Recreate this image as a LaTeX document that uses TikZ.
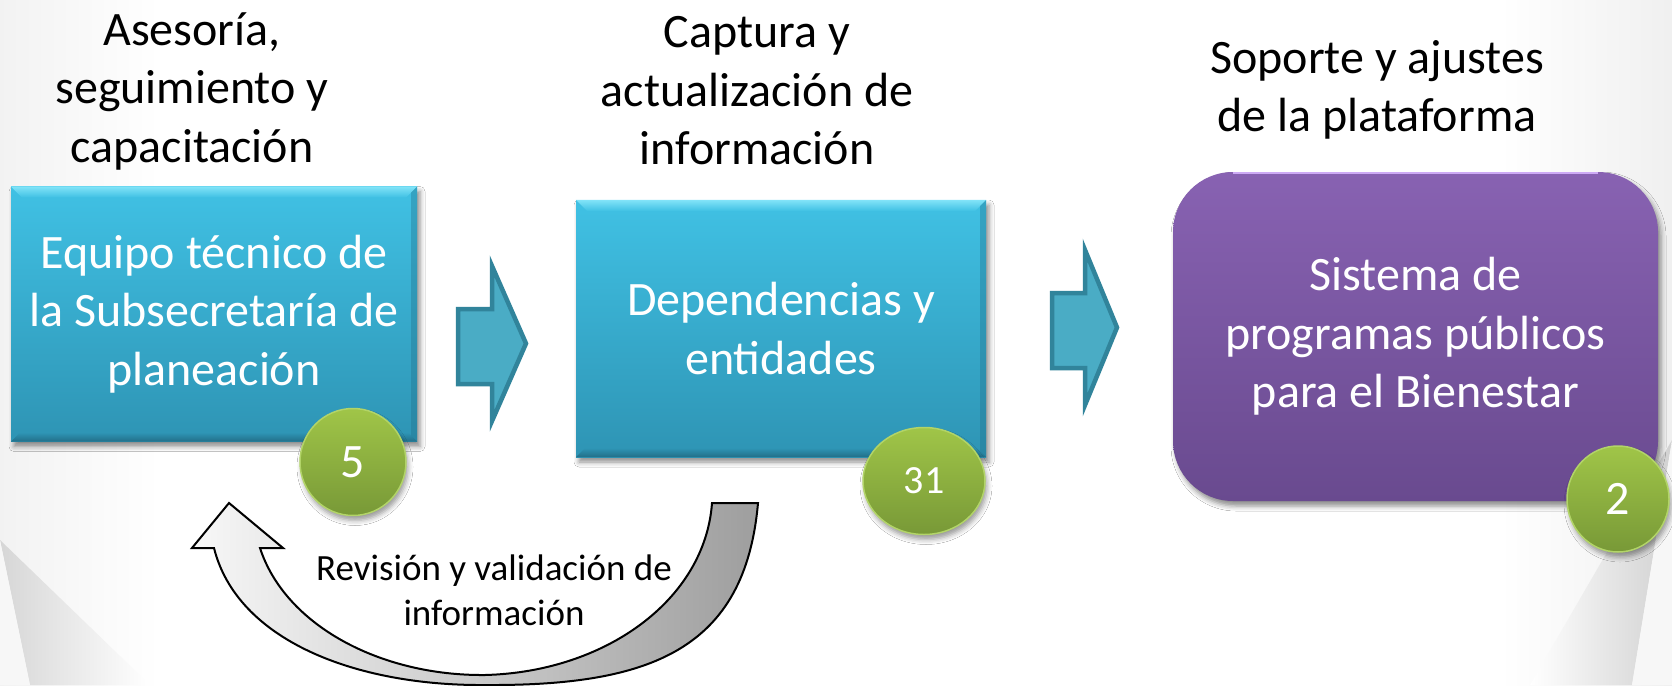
\documentclass[tikz,border=0pt]{standalone}
\usepackage{fontspec}
\setmainfont{Carlito}
\usetikzlibrary{calc,shadows.blur,shapes.geometric}
\definecolor{boxtop}{RGB}{64,193,228}
\definecolor{boxbot}{RGB}{46,148,180}
\definecolor{bevlight}{RGB}{130,228,248}
\definecolor{bevdark}{RGB}{34,110,135}
\definecolor{arrfill}{RGB}{74,172,197}
\definecolor{arrline}{RGB}{49,132,155}
\definecolor{purtop}{RGB}{136,98,178}
\definecolor{purbot}{RGB}{105,74,143}
\definecolor{purlight}{RGB}{205,170,245}
\definecolor{grntop}{RGB}{160,197,72}
\definecolor{grnbot}{RGB}{120,153,55}
\definecolor{grnline}{RGB}{178,212,104}
\begin{document}
\begin{tikzpicture}[x=1pt,y=-1pt,
  big/.style={font=\fontsize{48}{58.5}\selectfont},
  title/.style={big, align=center, text=black, inner sep=0pt},
  bluebox/.style={rectangle, draw=none, top color=boxtop, bottom color=boxbot, text=white, align=center, big, inner sep=0pt,
    blur shadow={shadow xshift=3pt, shadow yshift=-5pt, shadow blur radius=5pt, shadow opacity=45}},
  purbox/.style={rectangle, rounded corners=60pt, draw=none, top color=purtop, bottom color=purbot, text=white, align=center, big, inner sep=0pt,
    blur shadow={shadow xshift=3pt, shadow yshift=-5pt, shadow blur radius=5pt, shadow opacity=45}},
  badge/.style={ellipse, top color=grntop, bottom color=grnbot, draw=grnline, line width=1.5pt, text=white, inner sep=0pt, big,
    blur shadow={shadow xshift=2pt, shadow yshift=-5pt, shadow blur radius=5pt, shadow opacity=40}},
  blockarrow/.style={fill=arrfill, draw=arrline, line width=4.5pt, line join=miter},
  curvearrow/.style={left color=black!3, right color=black!38, draw=black, line width=2pt, line join=miter}
]
\useasboundingbox (0,0) rectangle (1672,685);
\fill[white] (0,0) rectangle (1672,685);
% background shading
\shade[left color=black!5, right color=white] (0,0) rectangle (160,685);
\shade[left color=black!16, right color=white] (0,540) -- (30,685) -- (150,685) -- cycle;
\fill[black!3] (0,540) -- (30,685) -- (0,685) -- cycle;
\shade[left color=white, right color=black!6] (1500,0) rectangle (1672,685);
\shade[left color=white, right color=black!18] (1672,440) -- (1632,685) -- (1530,685) -- cycle;
\fill[black!3] (1672,440) -- (1632,685) -- (1672,685) -- cycle;

% titles
\node[title] (t1) at (192,91) {Asesoría,\\seguimiento y\\capacitación};
\node[title] (t2) at (757,91) {Captura y\\actualización de\\información};
\node[title] (t3) at (1377,90) {Soporte y ajustes\\de la plataforma};

% boxes
\node[bluebox, minimum width=406pt, minimum height=255pt] (b1) at (214,314) {Equipo técnico de\\la Subsecretaría de\\planeación};
\node[bluebox, minimum width=410pt, minimum height=257pt] (b2) at (781,328.5) {Dependencias y\\entidades};
\foreach \b in {b1,b2}{
  \shade[top color=bevlight, bottom color=boxtop] (\b.north west) -- (\b.north east) -- ($(\b.north east)+(-11,11)$) -- ($(\b.north west)+(11,11)$) -- cycle;
  \shade[top color=boxbot, bottom color=bevdark] ($(\b.south west)+(9,-9)$) -- ($(\b.south east)+(-9,-9)$) -- (\b.south east) -- (\b.south west) -- cycle;
  \fill[bevdark, opacity=0.35] (\b.north east) -- (\b.south east) -- ($(\b.south east)+(-6,-6)$) -- ($(\b.north east)+(-6,6)$) -- cycle;
}
\node[purbox, minimum width=485pt, minimum height=329pt] (b3) at (1415.5,336.5) {Sistema de\\programas públicos\\para el Bienestar};
\draw[purlight, line width=2pt] ($(b3.north west)+(60,1)$) -- ($(b3.north east)+(-60,1)$);

% badges
\node[badge, minimum width=106pt, minimum height=107pt] (n5) at (353,462) {5};
\node[badge, minimum width=122pt, minimum height=107pt, font=\fontsize{40}{48}\selectfont] (n31) at (924,481) {31};
\node[badge, minimum width=102pt, minimum height=106pt] (n2) at (1618,499) {2};

% block arrows
\draw[blockarrow] (458,309) -- (492,309) -- (492,266) -- (526,343.5) -- (492,421) -- (492,384) -- (458,384) -- cycle;
\draw[blockarrow] (1052,293) -- (1085,293) -- (1085,250) -- (1117,327.5) -- (1085,405) -- (1085,368) -- (1052,368) -- cycle;

% curved return arrow
\coordinate (tailR) at (758,503);
\coordinate (tailL) at (712,503);
\coordinate (botIn) at (485,675);
\coordinate (botOut) at (485,685);
\coordinate (headIn) at (260,548);
\coordinate (headInC) at (283,548);
\coordinate (tip) at (229,503);
\coordinate (headOutC) at (192,548);
\coordinate (headOut) at (214,548);
\draw[curvearrow] (tailR) -- (tailL) .. controls (705,600) and (605,672) .. (botIn)
  .. controls (380,676) and (285,625) .. (headIn) -- (headInC) -- (tip) -- (headOutC) -- (headOut)
  .. controls (237,640) and (355,686) .. (botOut) .. controls (650,686) and (745,650) .. (tailR) -- cycle;
\node[align=center, text=black, font=\fontsize{37}{45}\selectfont] (rev) at (494,590) {Revisión y validación de\\información};
\end{tikzpicture}
\end{document}
